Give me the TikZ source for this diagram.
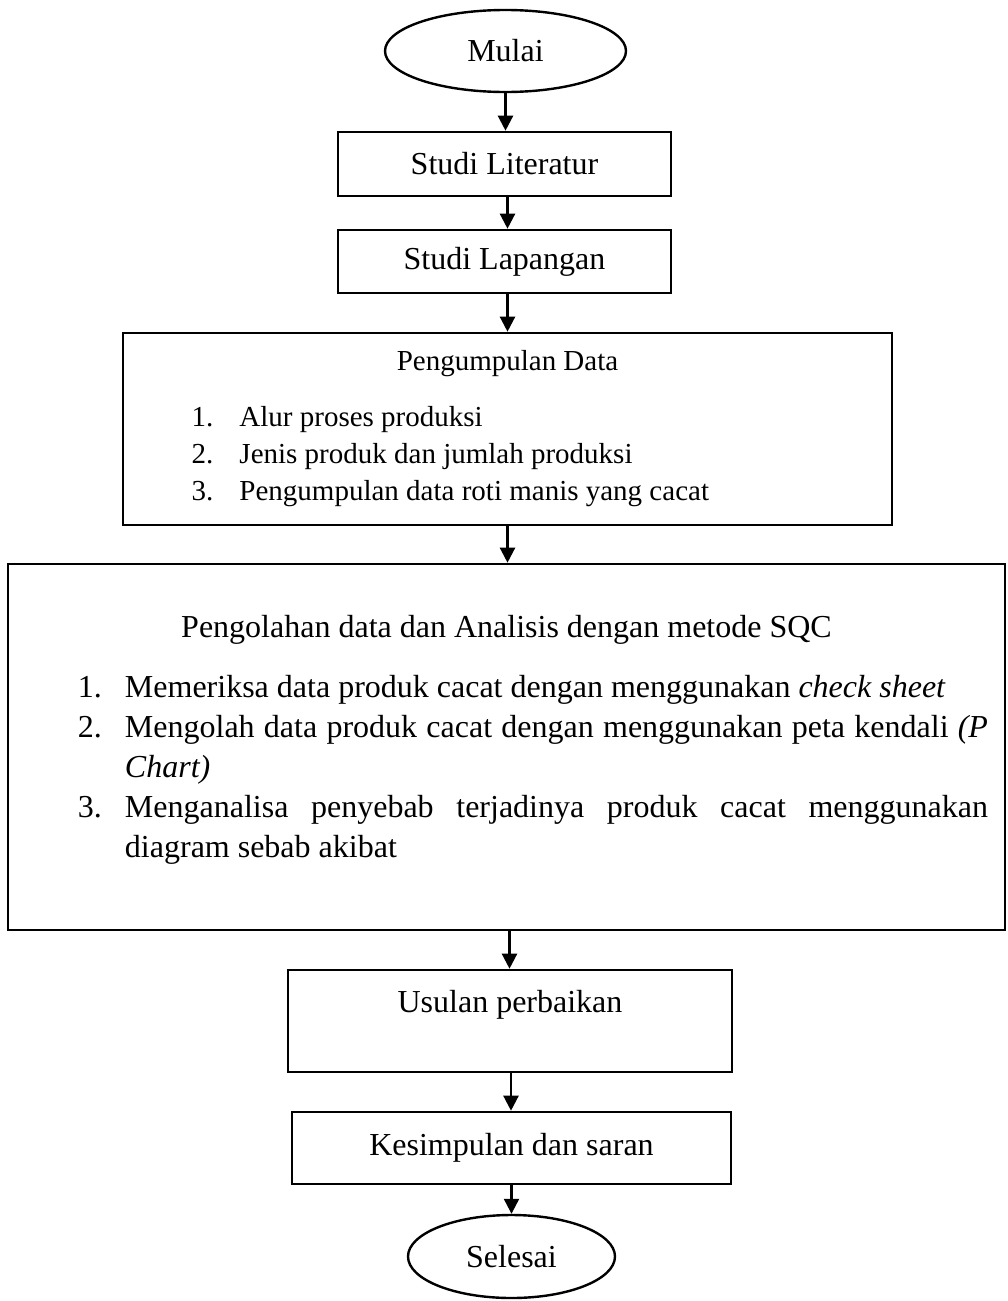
\documentclass[tikz,border=0pt]{standalone}
\usepackage{fontspec}
\setmainfont{Liberation Serif}
\usepackage{tikz}
\usetikzlibrary{arrows.meta,shapes.geometric}
\newcommand\fbig{\fontsize{32pt}{40pt}\selectfont}
\newcommand\fmid{\fontsize{29pt}{37pt}\selectfont}
\newcommand\kitem[2]{\makebox[632pt][l]{\makebox[48pt][l]{#1}#2}}
\newcommand\oitem[2]{\hangindent=47pt\hangafter=1\noindent\makebox[47pt][l]{#1}#2\par}
\tikzset{
  fc/.style={x=1pt, y=-1pt, font=\fbig},
  f box/.style={draw, line width=2.6pt, inner sep=0pt, align=center},
  f end/.style={draw, ellipse, line width=2.4pt, inner sep=0pt},
  f arr/.style={-{Triangle[length=15pt,width=15pt]}, line width=2.3pt},
}
\begin{document}
\begin{tikzpicture}[fc]
\useasboundingbox (0,0) rectangle (1008,1301);
\node[f end, minimum width=241pt, minimum height=82pt] (mulai) at (505.5,51) {Mulai};
\node[f box, minimum width=333pt, minimum height=64pt] (lit) at (504.5,164) {Studi Literatur};
\node[f box, minimum width=333pt, minimum height=63pt] (lap) at (504.5,261.5) {Studi Lapangan};
\node[f box, font=\fmid, minimum width=769pt, minimum height=192pt] (kumpul) at (507.5,429) {Pengumpulan Data\\[19pt]
  \kitem{1.}{Alur proses produksi}\\
  \kitem{2.}{Jenis produk dan jumlah produksi}\\
  \kitem{3.}{Pengumpulan data roti manis yang cacat}};
% pengolahan data: isi rata atas
\node[f box, minimum width=997pt, minimum height=366pt] (olah) at (506.5,747) {%
  \begin{minipage}[c][340pt][t]{997pt}
  \vspace*{38pt}
  {\centering Pengolahan data dan Analisis dengan metode SQC\par}
  \vspace{20pt}
  \leftskip=70pt \rightskip=17pt
  \oitem{1.}{Memeriksa data produk cacat dengan menggunakan \textit{check sheet}}
  \oitem{2.}{Mengolah data produk cacat dengan menggunakan peta kendali \textit{(P}\linebreak\textit{Chart)}}
  \oitem{3.}{Menganalisa penyebab terjadinya produk cacat menggunakan\linebreak diagram sebab akibat}
  \end{minipage}};
\node[f box, minimum width=444pt, text height=42pt, text depth=60pt] (usul) at (510,1021) {Usulan perbaikan};
\node[f box, minimum width=439pt, minimum height=72pt] (simpul) at (511.5,1148) {Kesimpulan dan saran};
\node[f end, minimum width=207pt, minimum height=83pt] (selesai) at (511.5,1256.5) {Selesai};
\draw[f arr] (mulai.south) -- (mulai.south |- lit.north);
\draw[f arr] ([xshift=3pt]lit.south) -- ([xshift=3pt]lit.south |- lap.north);
\draw[f arr] ([xshift=3pt]lap.south) -- ([xshift=3pt]lap.south |- kumpul.north);
\draw[f arr] (kumpul.south) -- (kumpul.south |- olah.north);
\draw[f arr] ([xshift=3pt]olah.south) -- ([xshift=3pt]olah.south |- usul.north);
\draw[f arr] ([xshift=1pt]usul.south) -- ([xshift=1pt]usul.south |- simpul.north);
\draw[f arr] (simpul.south) -- (selesai.north);
\end{tikzpicture}
\end{document}
